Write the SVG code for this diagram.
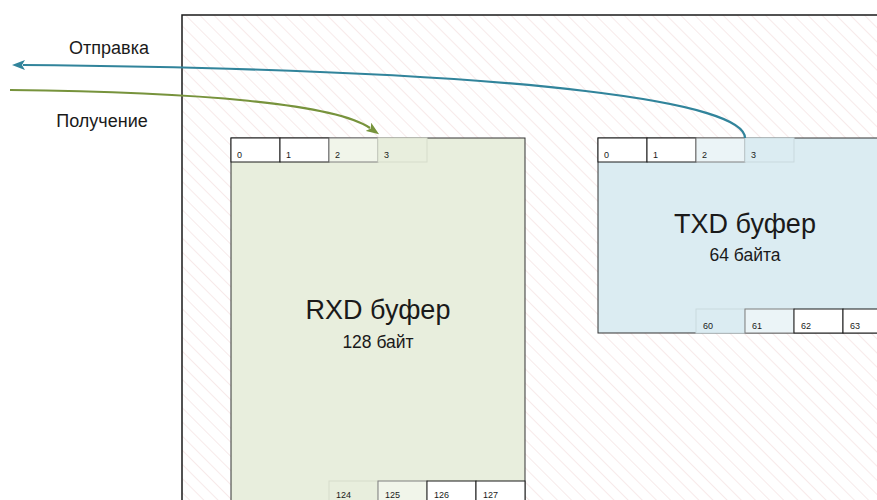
<svg xmlns="http://www.w3.org/2000/svg" width="877" height="500" viewBox="0 0 877 500">
<style>
.lbl{font-family:"Liberation Sans","Noto Sans",sans-serif;fill:#1a1a1a}
.cell{font-family:"Liberation Sans","Noto Sans",sans-serif;font-size:9px;fill:#1a1a1a}
.title{font-size:27px;text-anchor:middle}
.sub{font-size:17.5px;text-anchor:middle}
.cw{fill:#ffffff;stroke:#1a1a1a;stroke-width:1}
</style>
<defs>
<pattern id="hatch" patternUnits="userSpaceOnUse" width="10" height="10" patternTransform="rotate(-45)">
<rect width="10" height="10" fill="#ffffff"/>
<line x1="0" y1="0" x2="0" y2="10" stroke="#f5e4e4" stroke-width="1.5"/>
</pattern>
<marker id="arrB" viewBox="0 0 13 10" refX="2" refY="5" markerWidth="13" markerHeight="10" markerUnits="userSpaceOnUse" orient="auto">
<path d="M0,0 L13,5 L0,10 L3,5 Z" fill="#31849b"/>
</marker>
<marker id="arrG" viewBox="0 0 13 10" refX="2" refY="5" markerWidth="13" markerHeight="10" markerUnits="userSpaceOnUse" orient="auto">
<path d="M0,0 L13,5 L0,10 L3,5 Z" fill="#77933c"/>
</marker>
</defs>
<rect width="877" height="500" fill="#ffffff"/>
<g id="container">
<rect x="182" y="15" width="720" height="500" fill="url(#hatch)" stroke="#1a1a1a" stroke-width="1.5"/>
</g>
<g id="rxd">
<rect x="231" y="138" width="294" height="380" fill="#e8eedd" stroke="#333333" stroke-width="1"/>
<rect x="231" y="138" width="49" height="24" class="cw"/>
<rect x="280" y="138" width="49" height="24" class="cw"/>
<rect x="329" y="138" width="49" height="24" fill="#f1f5ea" stroke="#7f7f7f" stroke-width="1"/>
<rect x="378" y="138" width="49" height="24" fill="#e8eedd" stroke="#d6dccb" stroke-width="1"/>
<text class="cell" x="237" y="158">0</text>
<text class="cell" x="286" y="158">1</text>
<text class="cell" x="335" y="158">2</text>
<text class="cell" x="384" y="158">3</text>
<rect x="329" y="481" width="49" height="24" fill="#e8eedd" stroke="#d6dccb" stroke-width="1"/>
<rect x="378" y="481" width="49" height="24" fill="#f1f5ea" stroke="#7f7f7f" stroke-width="1"/>
<rect x="427" y="481" width="49" height="24" class="cw"/>
<rect x="476" y="481" width="49" height="24" class="cw"/>
<text class="cell" x="336" y="498">124</text>
<text class="cell" x="385" y="498">125</text>
<text class="cell" x="434" y="498">126</text>
<text class="cell" x="483" y="498">127</text>
<text class="lbl title" x="378" y="319">RXD буфер</text>
<text class="lbl sub" x="378" y="348">128 байт</text>
</g>
<g id="txd">
<rect x="598" y="138" width="300" height="195" fill="#dbecf2" stroke="#333333" stroke-width="1"/>
<rect x="598" y="138" width="49" height="24" class="cw"/>
<rect x="647" y="138" width="49" height="24" class="cw"/>
<rect x="696" y="138" width="49" height="24" fill="#ebf4f7" stroke="#7f7f7f" stroke-width="1"/>
<rect x="745" y="138" width="49" height="24" fill="#dbecf2" stroke="#c9d9de" stroke-width="1"/>
<text class="cell" x="604" y="158">0</text>
<text class="cell" x="653" y="158">1</text>
<text class="cell" x="702" y="158">2</text>
<text class="cell" x="751" y="158">3</text>
<rect x="696" y="309" width="49" height="24" fill="#dbecf2" stroke="#c9d9de" stroke-width="1"/>
<rect x="745" y="309" width="49" height="24" fill="#ebf4f7" stroke="#7f7f7f" stroke-width="1"/>
<rect x="794" y="309" width="49" height="24" class="cw"/>
<rect x="843" y="309" width="49" height="24" class="cw"/>
<text class="cell" x="703" y="329">60</text>
<text class="cell" x="752" y="329">61</text>
<text class="cell" x="801" y="329">62</text>
<text class="cell" x="850" y="329">63</text>
<text class="lbl title" x="745" y="233">TXD буфер</text>
<text class="lbl sub" x="745" y="261">64 байта</text>
</g>
<g id="connectors" fill="none" stroke-width="2.2">
<path d="M745,138 C745,105 560,70 23,65" stroke="#31849b" marker-end="url(#arrB)"/>
<path d="M10,90 C200,92 335,104 370,128" stroke="#77933c" marker-end="url(#arrG)"/>
</g>
<g id="labels">
<text class="lbl" x="109" y="54" font-size="18" text-anchor="middle">Отправка</text>
<text class="lbl" x="102" y="127" font-size="18" text-anchor="middle">Получение</text>
</g>
</svg>
